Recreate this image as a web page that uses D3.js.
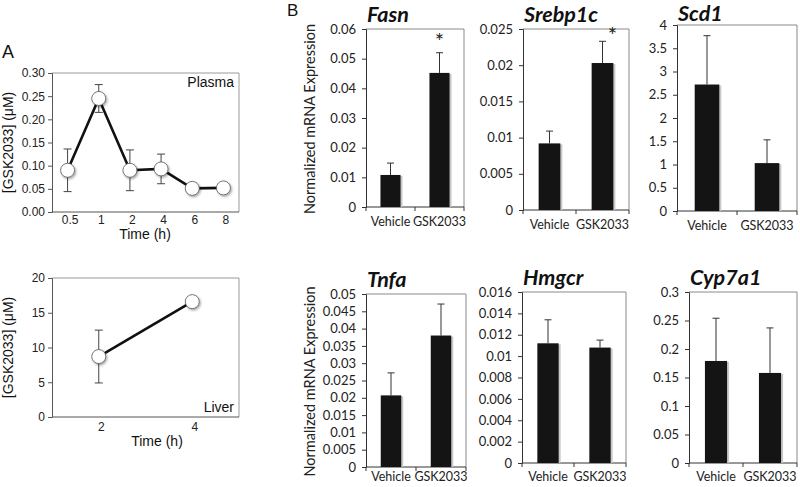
<!DOCTYPE html>
<html>
<head>
<meta charset="utf-8">
<script src="https://cdn.jsdelivr.net/npm/d3@7"></script>
<style>
  html, body { margin: 0; padding: 0; background: #fff; }
  svg { display: block; }
</style>
</head>
<body>
<div id="chart"></div>
<script>
// ---------------- DATA ----------------
// Panel A, plasma
const plasmaTimes = ["0.5", "1", "2", "4", "6", "8"];
const plasmaMean  = [0.090, 0.245, 0.090, 0.093, 0.051, 0.052];
const plasmaErr   = [0.046, 0.030, 0.044, 0.032, 0, 0];
const plasmaTicks = [0, 0.05, 0.10, 0.15, 0.20, 0.25, 0.30];
// Panel A, liver
const liverTimes = ["2", "4"];
const liverMean  = [8.7, 16.6];
const liverErr   = [3.8, 0];
const liverTicks = [0, 5, 10, 15, 20];

// Panel B
const genes       = ["Fasn", "Srebp1c", "Scd1", "Tnfa", "Hmgcr", "Cyp7a1"];
const groups      = ["Vehicle", "GSK2033"];
const vehicleMean = [0.0108, 0.0092, 2.72, 0.0207, 0.0112, 0.179];
const vehicleErr  = [0.0040, 0.0017, 1.05, 0.0065, 0.0022, 0.075];
const gskMean     = [0.0452, 0.0203, 1.03, 0.0380, 0.0108, 0.158];
const gskErr      = [0.0068, 0.0030, 0.50, 0.0091, 0.0007, 0.079];
const gskStar     = [true, true, false, false, false, false];
const yMaxes      = [0.06, 0.025, 4, 0.05, 0.016, 0.3];
const ySteps      = [0.01, 0.005, 0.5, 0.005, 0.002, 0.05];

// ---------------- LAYOUT ----------------
const W = 800, H = 487;
const svg = d3.select("#chart").append("svg").attr("width", W).attr("height", H);

const defs = svg.append("defs");
const f = defs.append("filter").attr("id", "shadow").attr("x", "-50%").attr("y", "-50%").attr("width", "200%").attr("height", "200%");
f.append("feDropShadow").attr("dx", 1.2).attr("dy", 1.5).attr("stdDeviation", 1.2).attr("flood-color", "#000").attr("flood-opacity", 0.35);

const fontA = "'Liberation Sans', Arial, sans-serif";
const fontB = "Lato, 'Open Sans', sans-serif";
const fmt = d => String(+(+d).toFixed(6));

// ----- Panel A -----
function linePanel(box, cats, means, errs, ticks, tickFmt, label, labelPos, xTitle, xPad) {
  const [x0, y0, x1, y1] = box;
  const x = d3.scalePoint().domain(cats).range([x0, x1]).padding(0.5);
  const y = d3.scaleLinear().domain([ticks[0], ticks[ticks.length - 1]]).range([y1, y0]);
  const g = svg.append("g");

  g.append("path").attr("d", `M${x0},${y0}H${x1}V${y1}`).attr("fill", "none").attr("stroke", "#9a9a9a").attr("stroke-width", 1);

  const ya = g.append("g").attr("transform", `translate(${x0},0)`)
    .call(d3.axisLeft(y).tickValues(ticks).tickFormat(tickFmt).tickSizeOuter(0).tickSize(4).tickPadding(3));
  ya.select(".domain").attr("stroke", "#555");
  ya.selectAll(".tick line").attr("stroke", "#555");
  ya.selectAll("text").attr("font-family", fontA).attr("font-size", 12).attr("fill", "#222");

  const xa = g.append("g").attr("transform", `translate(0,${y1})`)
    .call(d3.axisBottom(x).tickSize(0).tickPadding(xPad));
  xa.select(".domain").attr("stroke", "#555").attr("d", `M${x0},0H${x1}`);
  xa.selectAll("text").attr("font-family", fontA).attr("font-size", 12).attr("fill", "#222")
    .attr("dx", 2);

  const data = cats.map((c, i) => ({ c, m: means[i], e: errs[i] }));
  const eb = g.append("g").attr("stroke", "#444").attr("stroke-width", 1);
  data.filter(d => d.e > 0).forEach(d => {
    const cx = x(d.c);
    eb.append("line").attr("x1", cx).attr("x2", cx).attr("y1", y(d.m - d.e)).attr("y2", y(d.m + d.e));
    eb.append("line").attr("x1", cx - 4).attr("x2", cx + 4).attr("y1", y(d.m - d.e)).attr("y2", y(d.m - d.e));
    eb.append("line").attr("x1", cx - 4).attr("x2", cx + 4).attr("y1", y(d.m + d.e)).attr("y2", y(d.m + d.e));
  });
  g.append("path").datum(data)
    .attr("d", d3.line().x(d => x(d.c)).y(d => y(d.m)))
    .attr("fill", "none").attr("stroke", "#111").attr("stroke-width", 2.6).attr("stroke-linejoin", "round");
  g.selectAll("circle.pt").data(data).join("circle")
    .attr("cx", d => x(d.c)).attr("cy", d => y(d.m)).attr("r", 7)
    .attr("fill", "#fff").attr("stroke", "#555").attr("stroke-width", 0.8)
    .attr("filter", "url(#shadow)");

  g.append("text").attr("x", labelPos[0]).attr("y", labelPos[1]).attr("text-anchor", "end")
    .attr("font-family", fontA).attr("font-size", 14).attr("fill", "#111").text(label);
  g.append("text").attr("x", xTitle[0]).attr("y", xTitle[1]).attr("text-anchor", "middle")
    .attr("font-family", fontA).attr("font-size", 14).attr("fill", "#111").text("Time (h)");
  g.append("text").attr("transform", `translate(13,${(y0 + y1) / 2}) rotate(-90)`).attr("text-anchor", "middle")
    .attr("font-family", fontA).attr("font-size", 14).attr("fill", "#111").text("[GSK2033] (\u03BCM)");
}

linePanel([52, 73, 239, 212], plasmaTimes, plasmaMean, plasmaErr, plasmaTicks, d3.format(".2f"), "Plasma", [234, 87], [145, 239], 3);
linePanel([52, 278, 239, 417], liverTimes, liverMean, liverErr, liverTicks, d3.format("d"), "Liver", [234, 412], [157, 446], 5);

svg.append("text").attr("x", 2).attr("y", 58).attr("font-family", fontA).attr("font-size", 18).attr("fill", "#111").text("A");
svg.append("text").attr("x", 287).attr("y", 16).attr("font-family", fontA).attr("font-size", 17).attr("fill", "#111").text("B");

// ----- Panel B -----
const barBoxes = [
  [366, 29, 464, 207],
  [523, 29, 629, 210],
  [677, 25, 797, 211],
  [366, 294, 466, 467],
  [522, 292, 626, 463],
  [689, 292, 797, 463]
];

genes.forEach((gene, i) => {
  const [x0, y0, x1, y1] = barBoxes[i];
  const g = svg.append("g");
  const x = d3.scaleBand().domain(groups).range([x0, x1]).padding(0);
  const y = d3.scaleLinear().domain([0, yMaxes[i]]).range([y1, y0]);
  const ticks = d3.range(0, yMaxes[i] + ySteps[i] / 2, ySteps[i]);

  g.append("path").attr("d", `M${x0},${y0}H${x1}V${y1}`).attr("fill", "none").attr("stroke", "#8a8a8a").attr("stroke-width", 1);

  const ya = g.append("g").attr("transform", `translate(${x0},0)`)
    .call(d3.axisLeft(y).tickValues(ticks).tickFormat(fmt).tickSizeOuter(0).tickSize(4).tickPadding(6));
  ya.select(".domain").attr("stroke", "#333");
  ya.selectAll(".tick line").attr("stroke", "#333");
  ya.selectAll("text").attr("font-family", fontB).attr("font-size", 13).attr("fill", "#222");

  const xa = g.append("g").attr("transform", `translate(0,${y1})`)
    .call(d3.axisBottom(x).tickSize(0).tickPadding(Math.min(10, 472 - y1)));
  xa.select(".domain").attr("stroke", "#333").attr("d", `M${x0},0H${x1}`);
  xa.selectAll("text").attr("font-family", fontB).attr("font-size", 12.5).attr("fill", "#222");
  const bounds = [x0, x0 + x.bandwidth(), x1];
  g.append("g").selectAll("line").data(bounds).join("line")
    .attr("x1", d => d).attr("x2", d => d).attr("y1", y1).attr("y2", y1 + 4)
    .attr("stroke", "#333");

  const data = [
    { grp: groups[0], m: vehicleMean[i], e: vehicleErr[i], star: false },
    { grp: groups[1], m: gskMean[i], e: gskErr[i], star: gskStar[i] }
  ];
  const bw = x.bandwidth() * 0.41;
  data.forEach(d => {
    const cx = x(d.grp) + x.bandwidth() / 2;
    g.append("line").attr("x1", cx).attr("x2", cx).attr("y1", y(d.m)).attr("y2", y(d.m + d.e)).attr("stroke", "#333").attr("stroke-width", 1);
    g.append("line").attr("x1", cx - 3.5).attr("x2", cx + 3.5).attr("y1", y(d.m + d.e)).attr("y2", y(d.m + d.e)).attr("stroke", "#333").attr("stroke-width", 1);
    if (d.star) {
      const tight = y(d.m + d.e) - 4 < y0 + 14;
      const sy = tight ? y0 + 14 : y(d.m + d.e) - 4;
      const sx = cx + (tight ? 10 : 0);
      g.append("text").attr("x", sx).attr("y", sy).attr("text-anchor", "middle")
        .attr("font-family", fontB).attr("font-size", 22).attr("fill", "#222").text("*");
    }
  });
  g.selectAll("rect.shadow").data(data).join("rect")
    .attr("x", d => x(d.grp) + (x.bandwidth() - bw) / 2 + 2).attr("y", d => y(d.m) + 1)
    .attr("width", bw).attr("height", d => y1 - y(d.m) - 1).attr("fill", "#c8c8c8");
  g.selectAll("rect.bar").data(data).join("rect")
    .attr("x", d => x(d.grp) + (x.bandwidth() - bw) / 2).attr("y", d => y(d.m))
    .attr("width", bw).attr("height", d => y1 - y(d.m)).attr("fill", "#141414");

  g.append("text").attr("x", x0 + 1).attr("y", Math.max(y0 - 7, 21))
    .attr("font-family", fontB).attr("font-size", 21.5).attr("font-weight", "bold").attr("font-style", "italic")
    .attr("fill", "#111").text(gene);

  if (i % 3 === 0) {
    g.append("text").attr("transform", `translate(315,${(y0 + y1) / 2 + 1}) rotate(-90)`).attr("text-anchor", "middle")
      .attr("font-family", fontB).attr("font-size", 14.5).attr("fill", "#222").text("Normalized mRNA Expression");
  }
});
</script>
</body>
</html>
